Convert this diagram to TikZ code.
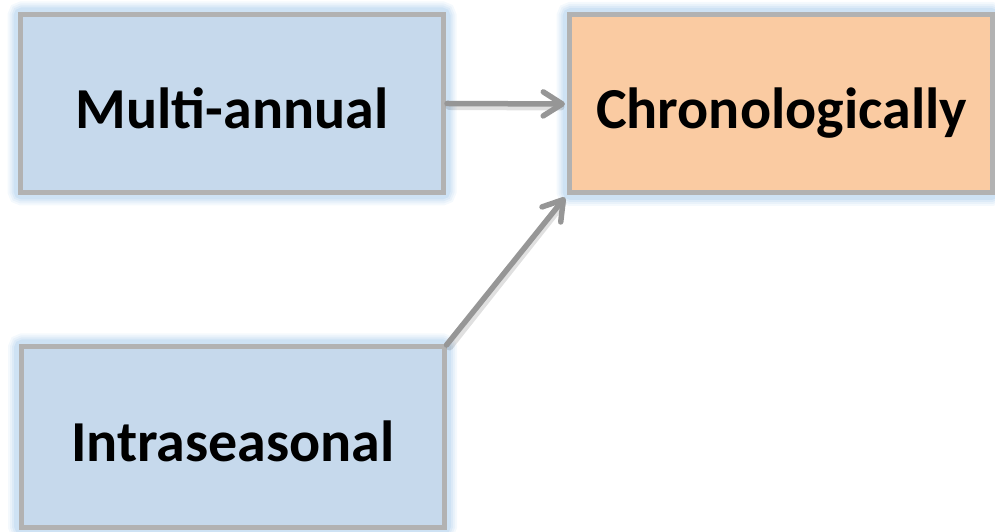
\documentclass[tikz,border=0pt]{standalone}
\usepackage{fontspec}
\setmainfont{Carlito}
\usetikzlibrary{arrows.meta,backgrounds}
\definecolor{boxblue}{RGB}{198,217,236}
\definecolor{boxorange}{RGB}{250,203,162}
\definecolor{boxborder}{RGB}{178,178,178}
\definecolor{arrowgray}{RGB}{150,150,150}
\definecolor{glowblue}{RGB}{150,192,232}
\tikzset{
  databox/.style={draw=boxborder, line width=5pt, minimum width=423pt, minimum height=178pt,
    inner sep=0pt},
  bluebox/.style={databox, fill=boxblue},
  orangebox/.style={databox, fill=boxorange},
  boxtext/.style={anchor=base, inner sep=0pt, font=\fontsize{58}{68}\selectfont\bfseries},
  link/.style={draw=arrowgray, line width=5.5pt, line cap=round,
    -{Straight Barb[length=19pt, width=24pt, line cap=round, line join=round]}},
  linkshadow/.style={draw=black, opacity=0.12, line width=7pt, line cap=round}
}
\begin{document}
\begin{tikzpicture}[x=1pt,y=1pt]
\useasboundingbox (0,0) rectangle (995,532);
\node[bluebox] (multi) at (232,428.5) {};
\node[orangebox] (chrono) at (781,428) {};
\node[bluebox, minimum height=181pt] (intra) at (232.5,95) {};
\node[boxtext] (tmulti) at (232,403) {Multi-annual};
\node[boxtext] (tchrono) at (781.5,403) {Chronologically};
\node[boxtext] (tintra) at (233,70) {Intraseasonal};
\begin{scope}[on background layer]
  \foreach \n in {multi,chrono,intra}{
    \foreach \w/\o in {21/0.10,17/0.12,13/0.15,9/0.2}{
      \draw[glowblue, opacity=\o, line width=\w pt, rounded corners=4pt]
        (\n.south west) rectangle (\n.north east);
    }
  }
\end{scope}
\coordinate (a1s) at ([xshift=1pt]multi.east);
\coordinate (a1e) at ([xshift=-2pt]chrono.west);
\coordinate (a2s) at ([xshift=0pt,yshift=-1pt]intra.north east);
\coordinate (a2e) at ([xshift=-2pt,yshift=-2pt]chrono.south west);
\draw[linkshadow] ([shift={(2pt,-3pt)}]a1s) -- ([shift={(-4pt,-3pt)}]a1e);
\draw[linkshadow] ([shift={(3pt,-2pt)}]a2s) -- ([shift={(-2pt,-6pt)}]a2e);
\draw[link] (a1s) -- (a1e);
\draw[link] (a2s) -- (a2e);
\end{tikzpicture}
\end{document}
